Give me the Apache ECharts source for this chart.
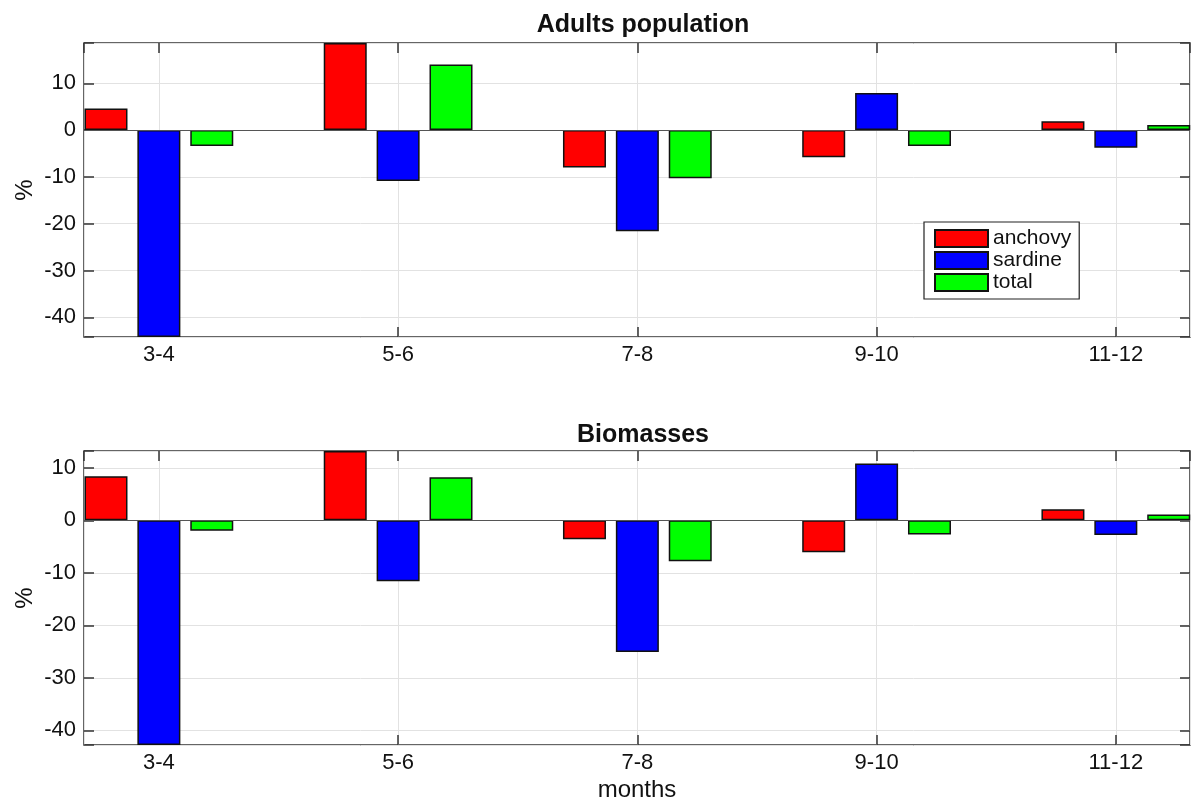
<!DOCTYPE html>
<html>
<head>
<meta charset="utf-8">
<script src="https://cdn.jsdelivr.net/npm/echarts@6/dist/echarts.min.js"></script>
<style>
  html, body { margin: 0; padding: 0; background: #fff; }
  #chart { width: 1192px; height: 805px; }
</style>
</head>
<body>
<div id="chart"></div>
<script>
// months (bar groups)
var months = ['3-4', '5-6', '7-8', '9-10', '11-12'];
var seriesNames = ['anchovy', 'sardine', 'total'];
var seriesColors = ['#ff0000', '#0000ff', '#00ff00'];

// Adults population (%)
var adultsAnchovy = [4.6, 18.6, -8.0, -5.8, 1.9];
var adultsSardine = [-44.2, -10.9, -21.6, 7.9, -3.8];
var adultsTotal = [-3.4, 14.0, -10.3, -3.4, 1.1];

// Biomasses (%)
var bioAnchovy = [8.4, 13.2, -3.6, -6.1, 2.1];
var bioSardine = [-42.8, -11.6, -25.1, 10.8, -2.8];
var bioTotal = [-2.0, 8.2, -7.8, -2.7, 1.1];

var FONT = '"Liberation Sans", Arial, sans-serif';
var chart = echarts.init(document.getElementById('chart'));

function pairs(vals) {
    return vals.map(function(v, i) { return [i + 1, v]; });
}

var tickStyle = { show: true, inside: true, length: 10, lineStyle: { color: '#333', width: 1.5 } };

function xAxes(gridIndex, showNames) {
    var base = {
        gridIndex: gridIndex,
        type: 'value',
        min: 0.687,
        max: 5.31
    };
    return [
        Object.assign({}, base, {
            position: 'bottom',
            name: showNames ? 'months' : '',
            nameLocation: 'middle',
            nameGap: 33,
            nameMoveOverlap: false,
            nameTextStyle: { fontFamily: FONT, fontSize: 24, color: '#111' },
            axisLine: { show: false, onZero: false },
            axisTick: tickStyle,
            axisLabel: {
                fontFamily: FONT, fontSize: 22, color: '#111', margin: 7,
                showMinLabel: false, showMaxLabel: false,
                formatter: function(v) {
                    return Math.abs(v - Math.round(v)) < 1e-6 && v >= 1 && v <= 5 ? months[Math.round(v) - 1] : '';
                }
            },
            splitLine: { show: true, lineStyle: { color: '#e2e2e2', width: 1 } }
        }),
        Object.assign({}, base, {
            position: 'top',
            axisLine: { show: false, onZero: false },
            axisTick: tickStyle,
            axisLabel: { show: false },
            splitLine: { show: false }
        })
    ];
}

function yAxes(gridIndex, min, max) {
    var base = { gridIndex: gridIndex, type: 'value', min: min, max: max };
    return [
        Object.assign({}, base, {
            position: 'left',
            name: '%',
            nameLocation: 'middle',
            nameGap: 47,
            nameRotate: 90,
            nameMoveOverlap: false,
            nameTextStyle: { fontFamily: FONT, fontSize: 24, color: '#111' },
            axisLine: { show: false, onZero: false },
            axisTick: tickStyle,
            axisLabel: {
                fontFamily: FONT, fontSize: 22, color: '#111', margin: 8,
                formatter: function(v) { return Math.abs(v % 10) < 1e-6 ? String(v) : ''; }
            },
            splitLine: { show: true, lineStyle: { color: '#e2e2e2', width: 1 } }
        }),
        Object.assign({}, base, {
            position: 'right',
            axisLine: { show: false, onZero: false },
            axisTick: tickStyle,
            axisLabel: { show: false },
            splitLine: { show: false }
        })
    ];
}

function barSeries(name, color, vals, gridIndex, withZero) {
    var s = {
        name: name,
        type: 'bar',
        xAxisIndex: gridIndex * 2,
        yAxisIndex: gridIndex * 2,
        data: pairs(vals),
        barWidth: 43,
        barGap: '23%',
        itemStyle: { color: color, borderColor: '#111', borderWidth: 1.5 },
        emphasis: { disabled: true },
        animation: false
    };
    if (withZero) {
        s.markLine = {
            silent: true,
            symbol: 'none',
            label: { show: false },
            lineStyle: { color: '#555', width: 1.2, type: 'solid' },
            data: [{ yAxis: 0 }]
        };
    }
    return s;
}

var option = {
    backgroundColor: '#fff',
    animation: false,
    title: [
        { text: 'Adults population', left: 638, top: 8, textAlign: 'center',
          textStyle: { fontFamily: FONT, fontSize: 25, fontWeight: 'bold', color: '#111' } },
        { text: 'Biomasses', left: 638, top: 418, textAlign: 'center',
          textStyle: { fontFamily: FONT, fontSize: 25, fontWeight: 'bold', color: '#111' } }
    ],
    legend: {
        data: seriesNames,
        orient: 'vertical',
        left: 924,
        top: 222,
        itemWidth: 53,
        itemHeight: 17,
        itemGap: 1,
        padding: [6, 8, 6, 10],
        backgroundColor: '#fff',
        borderColor: '#222',
        borderWidth: 1.2,
        icon: 'rect',
        selectedMode: false,
        textStyle: { fontFamily: FONT, fontSize: 21, color: '#111', lineHeight: 17 }
    },
    grid: [
        { left: 84, right: 2, top: 43, height: 294, show: true, borderColor: '#333', borderWidth: 1.5, backgroundColor: 'transparent' },
        { left: 84, right: 2, top: 451, height: 294, show: true, borderColor: '#333', borderWidth: 1.5, backgroundColor: 'transparent' }
    ],
    xAxis: xAxes(0, false).concat(xAxes(1, true)),
    yAxis: yAxes(0, -44.2, 18.6).concat(yAxes(1, -42.8, 13.2)),
    series: [
        barSeries(seriesNames[0], seriesColors[0], adultsAnchovy, 0, true),
        barSeries(seriesNames[1], seriesColors[1], adultsSardine, 0, false),
        barSeries(seriesNames[2], seriesColors[2], adultsTotal, 0, false),
        barSeries(seriesNames[0], seriesColors[0], bioAnchovy, 1, true),
        barSeries(seriesNames[1], seriesColors[1], bioSardine, 1, false),
        barSeries(seriesNames[2], seriesColors[2], bioTotal, 1, false)
    ]
};

chart.setOption(option);
</script>
</body>
</html>
